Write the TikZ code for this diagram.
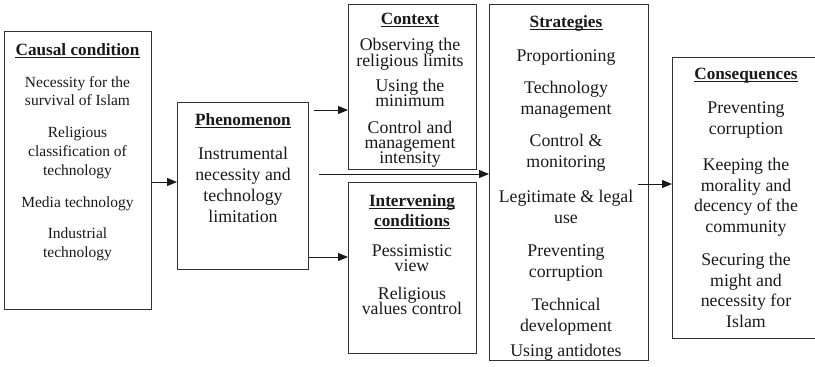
\documentclass[tikz,border=0pt]{standalone}
\usepackage{fontspec}
\setmainfont{Liberation Serif}
\usetikzlibrary{arrows.meta}
\begin{document}
\begin{tikzpicture}[x=1pt,y=-1pt,
  box/.style={draw=black!80,line width=1pt,inner sep=0pt,anchor=north west},
  arr/.style={draw=black!90,line width=1pt,-{Triangle[length=10pt,width=8pt]}},
  uline/.style={draw=black!90,line width=1.3pt},
  body/.style={inner sep=0pt,anchor=base,font=\fontsize{17.8}{20}\selectfont,text=black!90},
  small/.style={inner sep=0pt,anchor=base,font=\fontsize{15.5}{18}\selectfont,text=black!90},
  hd/.style={inner sep=0pt,anchor=base,font=\fontsize{17.2}{20}\selectfont\bfseries,text=black!90}]
\useasboundingbox (0,0) rectangle (815,367);

% boxes
\node[box,minimum width=147pt,minimum height=278pt] (causal) at (4,31) {};
\node[box,minimum width=131pt,minimum height=167pt] (phen) at (177,102) {};
\node[box,minimum width=128pt,minimum height=165pt] (context) at (348,4) {};
\node[box,minimum width=128pt,minimum height=171pt] (interv) at (348,182) {};
\node[box,minimum width=159pt,minimum height=356pt] (strat) at (489,4) {};
\node[box,minimum width=147pt,minimum height=281pt] (cons) at (672,57) {};

% headers
\node[hd] (causalh) at (77.5,49+6) {Causal condition};
\node[hd] (phenh) at (243,119+6) {Phenomenon};
\node[hd] (contexth) at (410,18+6) {Context};
\node[hd] (intervh1) at (412,200+6) {Intervening};
\node[hd] (intervh2) at (412,220+6) {conditions};
\node[hd] (strath) at (566,21+6) {Strategies};
\node[hd] (consh) at (746,73+6) {Consequences};
\foreach \h in {causalh,phenh,contexth,intervh1,intervh2,strath,consh}
  \draw[uline] ([yshift=-2.3pt]\h.base west) -- ([yshift=-2.3pt]\h.base east);

% texts
\foreach \yy/\s [count=\i] in {82/Necessity for the,100/survival of Islam,132/Religious,151/classification of,170/technology,202/Media technology,233/Industrial,252/technology}
  \node[small] (ca\i) at (77.5,\yy+5.5) {\s};
\foreach \yy/\s [count=\i] in {153/Instrumental,174/necessity and,195/technology,216/limitation}
  \node[body] (ph\i) at (243,\yy+6) {\s};
\foreach \yy/\s [count=\i] in {44/Observing the,60/religious limits,85/Using the,100/minimum,127/Control and,142/management,157/intensity}
  \node[body] (co\i) at (410,\yy+6) {\s};
\foreach \yy/\s [count=\i] in {250/Pessimistic,265/view,293/Religious,308/values control}
  \node[body] (iv\i) at (412,\yy+6) {\s};
\foreach \yy/\s [count=\i] in {55/Proportioning,87/Technology,108/management,140/Control \&,161/monitoring,196/Legitimate \& legal,217/use,250/Preventing,271/corruption,304/Technical,325/development,350/Using antidotes}
  \node[body] (st\i) at (566,\yy+6) {\s};
\foreach \yy/\s [count=\i] in {107/Preventing,128/corruption,164/Keeping the,185/morality and,205/decency of the,226/community,259/Securing the,280/might and,300/necessity for,321/Islam}
  \node[body] (cs\i) at (746,\yy+6) {\s};

% connectors
\coordinate (y1) at (0,182);
\coordinate (y2) at (0,110);
\coordinate (y3) at (0,174);
\coordinate (y4) at (0,257);
\coordinate (y5) at (0,184);
\draw[arr] (causal.east |- y1) -- (phen.west |- y1);
\draw[arr] ([xshift=5pt]phen.east |- y2) -- (context.west |- y2);
\draw[arr] ([xshift=10pt]phen.east |- y3) -- (strat.west |- y3);
\draw[arr] (phen.east |- y4) -- (interv.west |- y4);
\draw[arr] ([xshift=-11pt]strat.east |- y5) -- (cons.west |- y5);
\end{tikzpicture}
\end{document}
